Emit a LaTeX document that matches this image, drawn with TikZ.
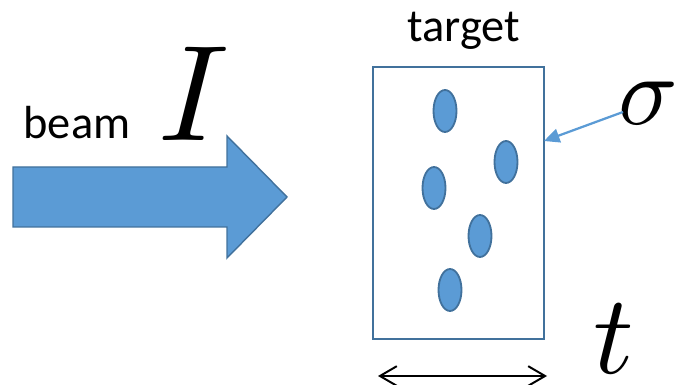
\documentclass[tikz,border=0pt]{standalone}
\usepackage{fontspec}
\setmainfont{Carlito}
\usetikzlibrary{arrows.meta, positioning}
\definecolor{fillblue}{HTML}{5B9BD5}
\definecolor{lineblue}{HTML}{41719C}

\begin{document}
\begin{tikzpicture}[x=0.025cm, y=-0.025cm,
    label_text/.style={inner sep=0, font=\fontsize{33}{36}\selectfont},
    symbol/.style={inner sep=0},
    grain/.style={fill=fillblue, draw=lineblue, line width=1.3pt},
    pointer/.style={-{Triangle[length=11pt, width=10pt]}, line width=1.6pt, color=fillblue},
    span/.style={{Straight Barb[length=12pt, width=14pt]}-{Straight Barb[length=12pt, width=14pt]}, line width=1.4pt}
]
\useasboundingbox (0,0) rectangle (677,385);

% Haz
\draw[fill=fillblue, draw=lineblue, line width=1pt] (13,167) -- (227,167) -- (227,136) -- (287,197) -- (227,258) -- (227,227) -- (13,227) -- cycle;
\node[label_text, anchor=base] (beam) at (77,139) {beam};
\node[symbol, scale=9.7] (I) at (194,94) {$I$};

% Blanco
\node[draw=lineblue, line width=1.1pt, inner sep=0, minimum width=4.275cm, minimum height=6.8cm] (slab) at (458.5,203) {};
\node[label_text, anchor=base] (title) at (464,42) {target};
\foreach \cx/\cy in {445/111, 506/162, 434/188, 480/236, 450/290}
    \draw[grain] (\cx,\cy) ellipse [x radius=11.5, y radius=21];

% Seccion eficaz
\node[symbol, scale=7] (sigma) at (648.5,103) {$\sigma$};
\coordinate (sigtail) at (623,112);
\coordinate (sighit) at (544,141);
\draw[pointer] (sigtail) -- (sighit);

% Espesor
\node[symbol, scale=8] (t) at (614,339) {$t$};
\coordinate (left_end) at (378,376);
\coordinate (right_end) at (547,376);
\draw[span] (left_end) -- (right_end);

\end{tikzpicture}
\end{document}
